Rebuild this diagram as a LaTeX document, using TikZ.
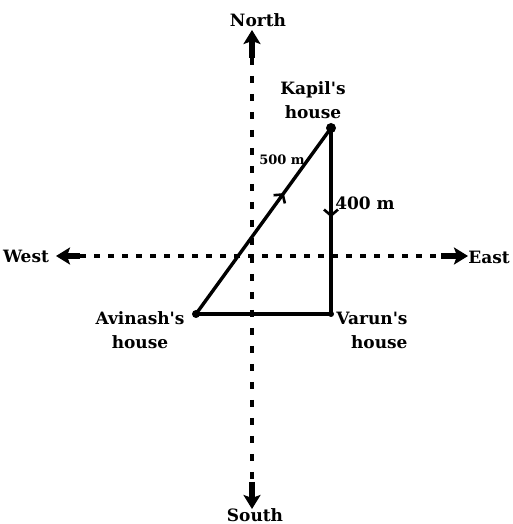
\documentclass[tikz,border=0pt]{standalone}
\usepackage{fontspec}
\setmainfont{DejaVu Serif}[Ligatures=TeXOff]
\usetikzlibrary{arrows.meta,calc}
\begin{document}
\begin{tikzpicture}[x=1pt,y=1pt,
  lbl/.style={font=\fontsize{17}{24}\selectfont\bfseries, inner sep=1pt, align=center},
  small/.style={font=\fontsize{13}{15}\selectfont\bfseries, inner sep=1pt},
  vaxis/.style={line width=3.4pt, dash pattern=on 7pt off 11pt},
  haxis/.style={line width=3.8pt, dash pattern=on 6pt off 8pt},
  bigarrow/.style={line width=6pt, -{Stealth[length=14pt,width=17pt,inset=3pt]}},
  edge/.style={line width=3.4pt},
  dot/.style={circle, fill, inner sep=0pt, minimum size=#1},
  chev/.style={line width=2.6pt, -{Straight Barb[length=6pt,width=14pt]}},
]
\useasboundingbox (0,0) rectangle (513,524);
% axes
\coordinate (ntip) at (252,494);
\coordinate (nbase) at (252,466);
\coordinate (stip) at (252,15);
\coordinate (sbase) at (252,42);
\coordinate (wtip) at (56,268);
\coordinate (wbase) at (80,268);
\coordinate (etip) at (468,268);
\coordinate (ebase) at (441,268);
\draw[vaxis] (nbase) -- (sbase);
\draw[haxis] (wbase) -- (ebase);
\draw[bigarrow] (nbase) -- (ntip);
\draw[bigarrow] (sbase) -- (stip);
\draw[bigarrow] (wbase) -- (wtip);
\draw[bigarrow] (ebase) -- (etip);
\node[lbl] (north) at (258,504) {North};
\node[lbl, anchor=north] (south) at (255,17) {South};
\node[lbl] (west) at (26,268) {West};
\node[lbl] (east) at (489,267) {East};
% houses
\node[dot=10pt] (K) at (331,396) {};
\node[dot=8pt] (A) at (196,210) {};
\node[dot=6pt] (V) at (331,210) {};
\node[lbl] (kl) at (313,424) {Kapil's\\house};
\node[lbl] (al) at (140,194) {Avinash's\\house};
\node[lbl, align=right] (vl) at (372,194) {Varun's\\house};
% path
\draw[edge] (A.center) -- (K.center);
\draw[edge] (K.center) -- (V.center);
\draw[edge] (V.center) -- (A.center);
\draw[chev] ($(A.center)!0.61!(K.center)$) -- ($(A.center)!0.65!(K.center)$);
\draw[chev] ($(K.center)!0.43!(V.center)$) -- ($(K.center)!0.48!(V.center)$);
\node[small] (d1) at (282,364) {500 m};
\node[lbl] (d2) at (365,321) {400 m};
\end{tikzpicture}
\end{document}
